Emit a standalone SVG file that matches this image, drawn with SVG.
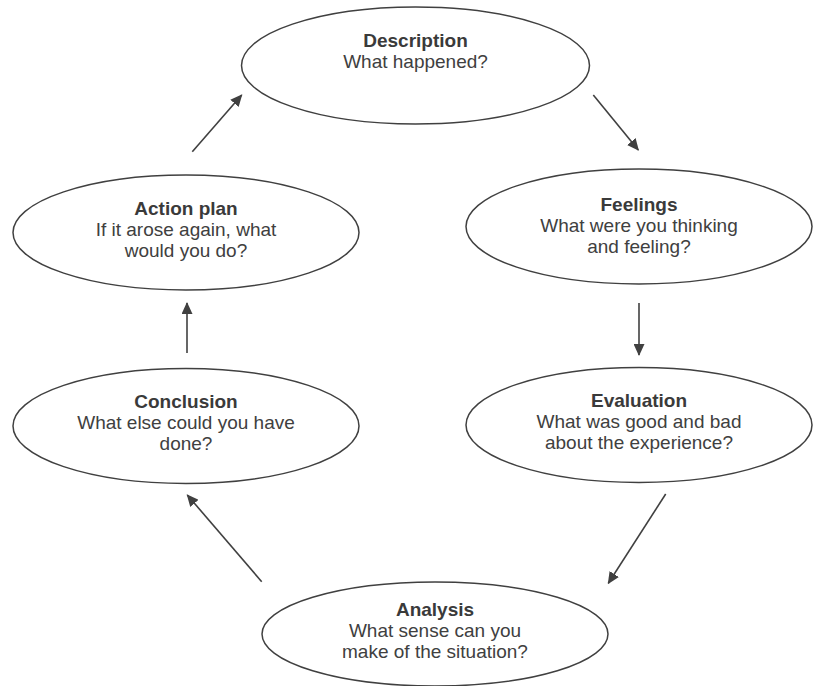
<svg xmlns="http://www.w3.org/2000/svg" width="813" height="686" viewBox="0 0 813 686">
<style>
.node ellipse{fill:#fff;stroke:#404040;stroke-width:1.5}
.t{font-family:"Liberation Sans",Arial,sans-serif;font-size:19px;text-anchor:middle;fill:#404040}
.b{font-weight:bold;fill:#3a3a3a}
.conn line{stroke:#404040;stroke-width:1.6;marker-end:url(#arr)}
</style>
<defs>
<marker id="arr" viewBox="0 0 12 11" refX="11" refY="5.5" markerWidth="12" markerHeight="11" markerUnits="userSpaceOnUse" orient="auto">
<path d="M0,0 L12,5.5 L0,11 z" fill="#404040"/>
</marker>
</defs>
<rect width="813" height="686" fill="#fff"/>
<g id="connectors" class="conn">
<line x1="192.3" y1="151.7" x2="241.7" y2="95"/>
<line x1="593.3" y1="95" x2="638.3" y2="150"/>
<line x1="639" y1="303" x2="639" y2="355"/>
<line x1="665.7" y1="494" x2="608.3" y2="583.3"/>
<line x1="261.7" y1="581.7" x2="187.3" y2="495"/>
<line x1="187" y1="353" x2="187" y2="303"/>
</g>
<g id="description" class="node">
<ellipse cx="415.5" cy="65.5" rx="174" ry="58.5"/>
<text class="t b" x="415.5" y="47">Description</text>
<text class="t" x="415.5" y="68">What happened?</text>
</g>
<g id="feelings" class="node">
<ellipse cx="639" cy="226.5" rx="173" ry="57.5"/>
<text class="t b" x="639" y="211">Feelings</text>
<text class="t" x="639" y="232">What were you thinking</text>
<text class="t" x="639" y="253">and feeling?</text>
</g>
<g id="evaluation" class="node">
<ellipse cx="639" cy="425" rx="173" ry="57.5"/>
<text class="t b" x="639" y="407">Evaluation</text>
<text class="t" x="639" y="428">What was good and bad</text>
<text class="t" x="639" y="449">about the experience?</text>
</g>
<g id="analysis" class="node">
<ellipse cx="435" cy="634" rx="173" ry="52"/>
<text class="t b" x="435" y="616">Analysis</text>
<text class="t" x="435" y="637">What sense can you</text>
<text class="t" x="435" y="658">make of the situation?</text>
</g>
<g id="conclusion" class="node">
<ellipse cx="186" cy="426" rx="173" ry="57.5"/>
<text class="t b" x="186" y="408">Conclusion</text>
<text class="t" x="186" y="429">What else could you have</text>
<text class="t" x="186" y="450">done?</text>
</g>
<g id="actionplan" class="node">
<ellipse cx="186" cy="232.5" rx="173" ry="57.5"/>
<text class="t b" x="186" y="215">Action plan</text>
<text class="t" x="186" y="236">If it arose again, what</text>
<text class="t" x="186" y="257">would you do?</text>
</g>
</svg>
